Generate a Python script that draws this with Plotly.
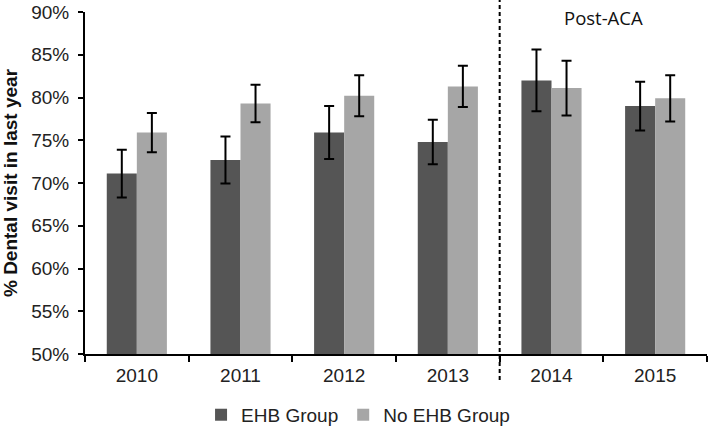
import plotly.graph_objects as go

years = ["2010", "2011", "2012", "2013", "2014", "2015"]
ehb = [71.1, 72.7, 75.9, 74.8, 82.0, 79.0]
ehb_err = [2.8, 2.75, 3.1, 2.6, 3.6, 2.85]
no_ehb = [75.9, 79.3, 80.2, 81.3, 81.1, 79.9]
no_ehb_err = [2.3, 2.2, 2.4, 2.4, 3.2, 2.7]
y_ticks = [50, 55, 60, 65, 70, 75, 80, 85, 90]
y_tick_text = [f"{v}%" for v in y_ticks]

FONT = "Liberation Sans, Arial, sans-serif"

fig = go.Figure()
fig.add_trace(go.Bar(
    x=years, y=ehb, name="EHB Group",
    marker=dict(color="#555555", line=dict(width=0)),
    error_y=dict(type="data", array=ehb_err, visible=True, color="black", thickness=2, width=5),
))
fig.add_trace(go.Bar(
    x=years, y=no_ehb, name="No EHB Group",
    marker=dict(color="#a6a6a6", line=dict(width=0)),
    error_y=dict(type="data", array=no_ehb_err, visible=True, color="black", thickness=2, width=5),
))

fig.update_layout(
    width=709, height=427,
    margin=dict(l=85, r=2, t=12, b=73, autoexpand=False),
    paper_bgcolor="white", plot_bgcolor="white",
    barmode="group", bargap=0.42, bargroupgap=0,
    font=dict(family=FONT, size=19, color="#222222"),
    showlegend=True,
    legend=dict(orientation="h", xref="container", x=0.505, xanchor="center",
                yref="paper", y=-0.178, yanchor="middle",
                font=dict(size=19, color="#222222"), itemwidth=30,
                tracegroupgap=0),
    xaxis=dict(type="category", showline=True, linecolor="black", linewidth=2,
               ticks="outside", tickson="boundaries", ticklen=6, tickwidth=2,
               tickcolor="black", showgrid=False, tickfont=dict(size=19),
               automargin=False, ticklabelstandoff=3),
    yaxis=dict(range=[50, 90], tickvals=y_ticks, ticktext=y_tick_text,
               showline=True, linecolor="black", linewidth=2,
               ticks="outside", ticklen=5, tickwidth=2, tickcolor="black",
               showgrid=False, zeroline=False, tickfont=dict(size=19),
               automargin=False, ticklabelstandoff=5,
               title=dict(text="<b>% Dental visit in last year</b>",
                          font=dict(size=19, color="#111111"), standoff=39)),
)

fig.add_shape(type="line", xref="x", yref="paper", x0=3.5, x1=3.5, y0=-0.076, y1=1.035,
              line=dict(color="black", width=2, dash="4px,3px"))
fig.add_annotation(x=4.5, xref="x", y=0.985, yref="paper", text="Post-ACA",
                   showarrow=False, yanchor="middle", xanchor="center",
                   font=dict(family="Open Sans, sans-serif", size=18.5, color="#111111"))

fig.write_html("out.html", config={"displayModeBar": False},
               post_script="document.body.style.margin='0';")
